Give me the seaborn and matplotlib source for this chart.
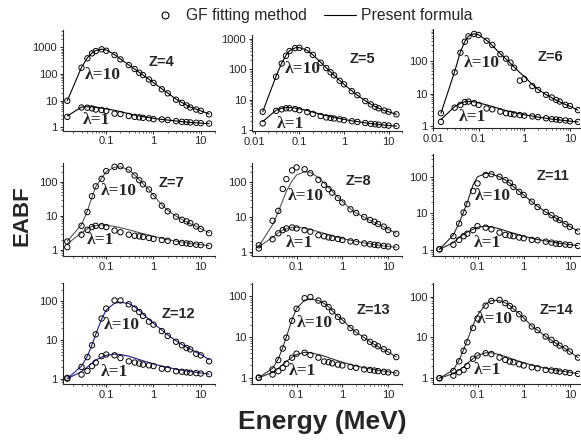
import numpy as np
import pandas as pd
import seaborn as sns
import matplotlib.pyplot as plt
import matplotlib.ticker as mticker
from matplotlib.lines import Line2D

# photon energies (MeV) of the GF tabulation
energy = [0.015, 0.03, 0.04, 0.05, 0.06, 0.08, 0.1, 0.15, 0.2, 0.3, 0.4, 0.5,
          0.6, 0.8, 1, 1.5, 2, 3, 4, 5, 6, 8, 10, 15]

# GF fitting method (circles) and present formula (lines), lambda = 10 and 1
gf_z4_l10 = [10, 174, 390, 600, 730, 850, 750, 520, 355, 218, 155, 112, 92, 63, 47, 27, 19, 11, 8.4, 6.7, 5.6, 4.7, 4.2, 3.1]
fit_z4_l10 = [10, 180, 410, 620, 770, 860, 800, 540, 370, 220, 155, 115, 92, 64, 48, 28, 19.5, 11.5, 8.6, 6.9, 5.8, 4.8, 4.2, 3.2]
gf_z4_l1 = [2.5, 5.6, 5.5, 5.2, 4.7, 4.5, 4.2, 3.3, 3.2, 2.7, 2.5, 2.4, 2.3, 2.2, 2.05, 2.0, 1.9, 1.73, 1.63, 1.6, 1.55, 1.5, 1.45, 1.4]
fit_z4_l1 = [2.7, 5.8, 6.0, 5.9, 5.7, 5.3, 5.0, 4.4, 3.9, 3.3, 2.9, 2.7, 2.55, 2.35, 2.2, 2.0, 1.9, 1.75, 1.65, 1.6, 1.55, 1.5, 1.45, 1.4]

gf_z5_l10 = [4, 57, 155, 280, 400, 500, 510, 430, 300, 165, 110, 80, 63, 42, 32, 19, 14, 9, 7, 5.8, 5.2, 4.4, 4.0, 3.3]
fit_z5_l10 = [4, 60, 160, 290, 410, 510, 520, 420, 300, 170, 112, 82, 64, 43, 32, 19.5, 14, 9.2, 7.1, 5.9, 5.2, 4.4, 4.0, 3.3]
gf_z5_l1 = [1.66, 4.3, 4.8, 5.2, 5.2, 4.9, 4.5, 3.9, 3.4, 2.9, 2.6, 2.5, 2.4, 2.25, 2.1, 1.95, 1.85, 1.7, 1.6, 1.55, 1.5, 1.45, 1.4, 1.35]
fit_z5_l1 = [1.9, 4.5, 5.2, 5.5, 5.5, 5.3, 5.0, 4.4, 3.9, 3.3, 3.0, 2.75, 2.6, 2.4, 2.25, 2.0, 1.9, 1.72, 1.63, 1.57, 1.52, 1.46, 1.41, 1.35]

gf_z6_l10 = [2.5, 45, 180, 390, 570, 680, 630, 420, 310, 162, 118, 89, 62, 25, 28, 17, 13, 9.2, 7.6, 6.4, 5.7, 4.5, 4.2, 3.1]
fit_z6_l10 = [2.5, 48, 190, 400, 580, 690, 640, 430, 300, 165, 115, 85, 65, 44, 34, 19, 13.5, 9.3, 7.5, 6.3, 5.6, 4.6, 4.1, 3.1]
gf_z6_l1 = [1.36, 3.7, 4.5, 5.5, 5.7, 5.1, 4.5, 3.5, 3.3, 2.8, 2.5, 2.4, 2.3, 2.2, 2.1, 2.0, 1.9, 1.75, 1.65, 1.6, 1.55, 1.5, 1.42, 1.35]
fit_z6_l1 = [1.6, 4.0, 5.0, 5.6, 5.8, 5.6, 5.2, 4.5, 4.0, 3.4, 3.0, 2.8, 2.6, 2.4, 2.25, 2.05, 1.9, 1.75, 1.65, 1.6, 1.55, 1.48, 1.43, 1.35]

gf_z7_l10 = [1.76, 5.1, 13, 38, 74, 123, 208, 278, 290, 230, 155, 112, 85, 60, 38, 20, 13.6, 9.5, 7.7, 6.9, 6.1, 4.9, 4.1, 3.1]
fit_z7_l10 = [1.8, 5.5, 14, 36, 72, 130, 200, 270, 280, 225, 160, 115, 88, 60, 40, 21, 14.5, 9.8, 7.8, 6.7, 5.9, 4.9, 4.2, 3.2]
gf_z7_l1 = [1.2, 2.8, 3.9, 4.7, 5.1, 5.0, 4.7, 3.7, 3.3, 2.8, 2.6, 2.5, 2.4, 2.25, 2.1, 1.95, 1.85, 1.7, 1.6, 1.55, 1.5, 1.42, 1.38, 1.3]
fit_z7_l1 = [1.5, 3.2, 4.2, 4.9, 5.2, 5.4, 5.3, 4.9, 4.5, 3.9, 3.5, 3.2, 3.0, 2.7, 2.5, 2.2, 2.0, 1.8, 1.7, 1.62, 1.55, 1.48, 1.42, 1.33]

gf_z8_l10 = [1.55, 7.8, 15, 64, 122, 218, 265, 235, 180, 117, 84, 63, 50, 35, 26, 16.6, 13, 10, 8.2, 7.3, 6.3, 5.3, 4.2, 3.3]
fit_z8_l10 = [1.45, 6, 14, 30, 55, 110, 160, 200, 190, 135, 95, 70, 55, 37, 28, 17, 13, 9.8, 8.0, 7.0, 6.2, 5.2, 4.4, 3.4]
gf_z8_l1 = [1.25, 2.3, 3.4, 4.2, 4.7, 5.0, 4.7, 4.2, 3.8, 3.0, 2.8, 2.6, 2.5, 2.35, 2.2, 2.0, 1.9, 1.75, 1.65, 1.6, 1.55, 1.48, 1.42, 1.35]
fit_z8_l1 = [1.4, 2.6, 3.5, 4.2, 4.6, 5.0, 5.1, 4.8, 4.4, 3.8, 3.4, 3.1, 2.9, 2.6, 2.4, 2.15, 2.0, 1.8, 1.7, 1.62, 1.56, 1.48, 1.43, 1.35]

gf_z11_l10 = [1.05, 2.4, 5.3, 10.6, 18, 41, 66, 112, 118, 100, 81, 69, 53, 39, 32, 21, 15, 11, 9, 7.3, 6.6, 5.1, 4.3, 3.2]
fit_z11_l10 = [1.05, 2.6, 5.5, 11, 20, 60, 100, 125, 120, 100, 82, 68, 54, 40, 32, 21, 15.5, 11, 8.8, 7.4, 6.5, 5.2, 4.4, 3.3]
gf_z11_l1 = [1.05, 1.4, 1.9, 2.4, 2.8, 3.5, 4.5, 4.1, 3.7, 3.0, 2.6, 2.5, 2.4, 2.2, 2.1, 1.9, 1.85, 1.7, 1.6, 1.5, 1.48, 1.42, 1.38, 1.3]
fit_z11_l1 = [1.05, 1.6, 2.2, 2.7, 3.1, 3.7, 4.2, 4.5, 4.3, 3.8, 3.4, 3.1, 2.9, 2.6, 2.4, 2.1, 1.95, 1.78, 1.68, 1.6, 1.54, 1.46, 1.41, 1.32]

gf_z12_l10 = [1.04, 2.0, 3.6, 7.3, 14, 36, 65, 106, 106, 84, 65, 53, 42, 30, 25, 17, 12.7, 9, 7.3, 6.2, 5.7, 4.4, 4.0, 2.8]
fit_z12_l10 = [1.0, 2.1, 3.8, 7.5, 14, 35, 60, 90, 95, 88, 72, 58, 47, 34, 27, 18, 13.5, 9.5, 7.6, 6.5, 5.8, 4.8, 4.2, 3.1]
gf_z12_l1 = [1.0, 1.27, 1.58, 2.1, 2.6, 3.8, 4.2, 4.0, 3.4, 2.8, 2.6, 2.45, 2.3, 2.2, 2.1, 1.8, 1.75, 1.55, 1.5, 1.45, 1.42, 1.38, 1.35, 1.3]
fit_z12_l1 = [1.0, 1.5, 2.0, 2.5, 3.0, 3.6, 4.0, 4.3, 4.2, 3.8, 3.4, 3.1, 2.9, 2.6, 2.4, 2.1, 1.95, 1.75, 1.65, 1.58, 1.52, 1.45, 1.4, 1.3]

gf_z13_l10 = [1.0, 1.6, 2.7, 5.2, 9.6, 25, 49, 89, 95, 78, 65, 54, 42, 31, 25, 16.5, 13, 9.6, 7.6, 6.6, 5.9, 5.0, 4.3, 3.2]
fit_z13_l10 = [1.0, 1.7, 2.9, 5.5, 10, 27, 50, 80, 85, 78, 66, 55, 44, 32, 26, 17, 13, 9.6, 7.6, 6.5, 5.8, 4.9, 4.3, 3.2]
gf_z13_l1 = [1.0, 1.2, 1.45, 1.75, 2.2, 3.1, 3.9, 4.1, 3.6, 3.1, 2.5, 2.4, 2.25, 2.1, 2.0, 1.85, 1.75, 1.6, 1.55, 1.5, 1.45, 1.4, 1.35, 1.3]
fit_z13_l1 = [1.0, 1.35, 1.7, 2.1, 2.5, 3.2, 3.7, 4.2, 4.1, 3.7, 3.4, 3.1, 2.9, 2.6, 2.4, 2.1, 1.95, 1.75, 1.65, 1.58, 1.52, 1.45, 1.4, 1.3]

gf_z14_l10 = [1.0, 1.5, 2.6, 4.7, 7.6, 17, 29, 60, 78, 83, 69, 59, 50, 37, 29, 18.5, 15, 10.5, 8.7, 7.2, 6.3, 5.4, 4.5, 3.2]
fit_z14_l10 = [1.0, 1.6, 2.8, 5.0, 8.5, 20, 35, 65, 80, 80, 70, 60, 50, 38, 30, 19, 15, 10.5, 8.5, 7.2, 6.3, 5.3, 4.5, 3.2]
gf_z14_l1 = [1.0, 1.16, 1.4, 1.6, 2.0, 3.0, 3.6, 4.1, 3.9, 3.2, 2.8, 2.55, 2.45, 2.2, 2.05, 1.85, 1.75, 1.6, 1.55, 1.5, 1.45, 1.4, 1.35, 1.28]
fit_z14_l1 = [1.0, 1.3, 1.6, 1.9, 2.3, 3.0, 3.6, 4.2, 4.2, 3.8, 3.4, 3.1, 2.9, 2.6, 2.4, 2.1, 1.95, 1.75, 1.65, 1.58, 1.52, 1.45, 1.4, 1.3]

data = {
    4: (gf_z4_l10, gf_z4_l1, fit_z4_l10, fit_z4_l1),
    5: (gf_z5_l10, gf_z5_l1, fit_z5_l10, fit_z5_l1),
    6: (gf_z6_l10, gf_z6_l1, fit_z6_l10, fit_z6_l1),
    7: (gf_z7_l10, gf_z7_l1, fit_z7_l10, fit_z7_l1),
    8: (gf_z8_l10, gf_z8_l1, fit_z8_l10, fit_z8_l1),
    11: (gf_z11_l10, gf_z11_l1, fit_z11_l10, fit_z11_l1),
    12: (gf_z12_l10, gf_z12_l1, fit_z12_l10, fit_z12_l1),
    13: (gf_z13_l10, gf_z13_l1, fit_z13_l10, fit_z13_l1),
    14: (gf_z14_l10, gf_z14_l1, fit_z14_l10, fit_z14_l1),
}

# layout in pixels: left, right, top, bottom ; then xlim, ylim, line colour
# label positions (axes fraction): Z label, lambda=10, lambda=1
layout = {
    4: ((62.7, 215, 30, 130.5), (0.012, 20), (0.77, 4500), 'black', (0.65, 0.685), (0.26, 0.55), (0.22, 0.10)),
    5: ((251.7, 402, 35, 131), (0.0085, 20), (0.93, 1350), 'black', (0.74, 0.75), (0.34, 0.65), (0.26, 0.07)),
    6: ((432.7, 580, 29, 128.5), (0.0099, 16.6), (0.85, 960), 'black', (0.80, 0.72), (0.33, 0.66), (0.27, 0.12)),
    7: ((62.7, 215, 163, 256), (0.012, 20), (0.66, 360), '#555555', (0.716, 0.78), (0.37, 0.70), (0.245, 0.17)),
    8: ((251.7, 402, 163, 256), (0.0105, 20), (0.76, 355), '#555555', (0.71, 0.81), (0.36, 0.645), (0.32, 0.14)),
    11: ((432.7, 580, 154, 256), (0.0107, 16.6), (0.69, 420), '#222222', (0.82, 0.78), (0.41, 0.59), (0.37, 0.13)),
    12: ((62.7, 215, 283, 384.3), (0.012, 20), (0.71, 300), '#1c1c8a', (0.76, 0.69), (0.39, 0.59), (0.34, 0.12)),
    13: ((251.7, 402, 283, 384.3), (0.0105, 20), (0.69, 210), '#333333', (0.81, 0.73), (0.42, 0.61), (0.34, 0.13)),
    14: ((432.7, 580, 283, 384.3), (0.0107, 16.6), (0.71, 215), '#333333', (0.84, 0.73), (0.42, 0.64), (0.37, 0.14)),
}

sns.set_theme(style='ticks')
plt.rcParams['font.family'] = ['Liberation Sans', 'DejaVu Sans']
plt.rcParams['axes.linewidth'] = 0.8

W, H = 581, 440
fig = plt.figure(figsize=(W / 100, H / 100), dpi=100)
fmt = mticker.FuncFormatter(lambda v, _: f'{v:g}')
serif = ['Liberation Serif', 'DejaVu Serif']

for z, (gf10, gf1, fit10, fit1) in data.items():
    (l, r, t, b), xlim, ylim, lc, zpos, p10, p1 = layout[z]
    ax = fig.add_axes([l / W, 1 - b / H, (r - l) / W, (b - t) / H])

    fit_df = pd.DataFrame({'energy': energy * 2, 'eabf': fit10 + fit1,
                           'lam': [10] * len(energy) + [1] * len(energy)})
    gf_df = pd.DataFrame({'energy': energy * 2, 'eabf': gf10 + gf1,
                          'lam': [10] * len(energy) + [1] * len(energy)})

    sns.lineplot(data=fit_df, x='energy', y='eabf', units='lam', estimator=None,
                 color=lc, lw=0.8, ax=ax, zorder=2)
    pts = sns.scatterplot(data=gf_df, x='energy', y='eabf', ax=ax, marker='o',
                          s=15, linewidth=0.7, zorder=3)
    pts.collections[-1].set_facecolor('none')
    pts.collections[-1].set_edgecolor('black')

    ax.set_xscale('log')
    ax.set_yscale('log')
    ax.set_xlim(*xlim)
    ax.set_ylim(*ylim)
    ax.xaxis.set_major_locator(mticker.LogLocator(base=10))
    ax.yaxis.set_major_locator(mticker.LogLocator(base=10))
    ax.xaxis.set_minor_locator(mticker.LogLocator(base=10, subs=np.arange(2, 10)))
    ax.yaxis.set_minor_locator(mticker.LogLocator(base=10, subs=np.arange(2, 10)))
    ax.xaxis.set_major_formatter(fmt)
    ax.yaxis.set_major_formatter(fmt)
    ax.xaxis.set_minor_formatter(mticker.NullFormatter())
    ax.yaxis.set_minor_formatter(mticker.NullFormatter())
    ax.tick_params(which='major', length=2.5, width=0.7, labelsize=8, pad=1.5)
    ax.tick_params(which='minor', length=1.3, width=0.5)
    ax.set_xlabel('')
    ax.set_ylabel('')
    sns.despine(ax=ax)

    ax.text(*zpos, f'Z={z}', transform=ax.transAxes, ha='center', va='center',
            fontsize=10.5, fontweight='bold')
    ax.text(*p10, 'λ=10', transform=ax.transAxes, ha='center', va='center',
            fontsize=12.5, fontweight='bold', family=serif)
    ax.text(*p1, 'λ=1', transform=ax.transAxes, ha='center', va='center',
            fontsize=12.5, fontweight='bold', family=serif)

handles = [Line2D([], [], marker='o', ls='none', mfc='none', mec='black', ms=5, mew=0.8),
           Line2D([], [], color='black', lw=0.8)]
fig.legend(handles, ['GF fitting method', 'Present formula'], loc='center',
           bbox_to_anchor=(0.535, 0.964), ncol=2, frameon=False, fontsize=11.3,
           handlelength=2.0, columnspacing=1.1, handletextpad=0.35)

fig.text(0.038, 0.509, 'EABF', rotation=90, ha='center', va='center',
         fontsize=16, fontweight='bold')
fig.text(322 / W, 0.025, 'Energy (MeV)', ha='center', va='baseline',
         fontsize=19, fontweight='bold')

fig.savefig('out.png', dpi=100)
